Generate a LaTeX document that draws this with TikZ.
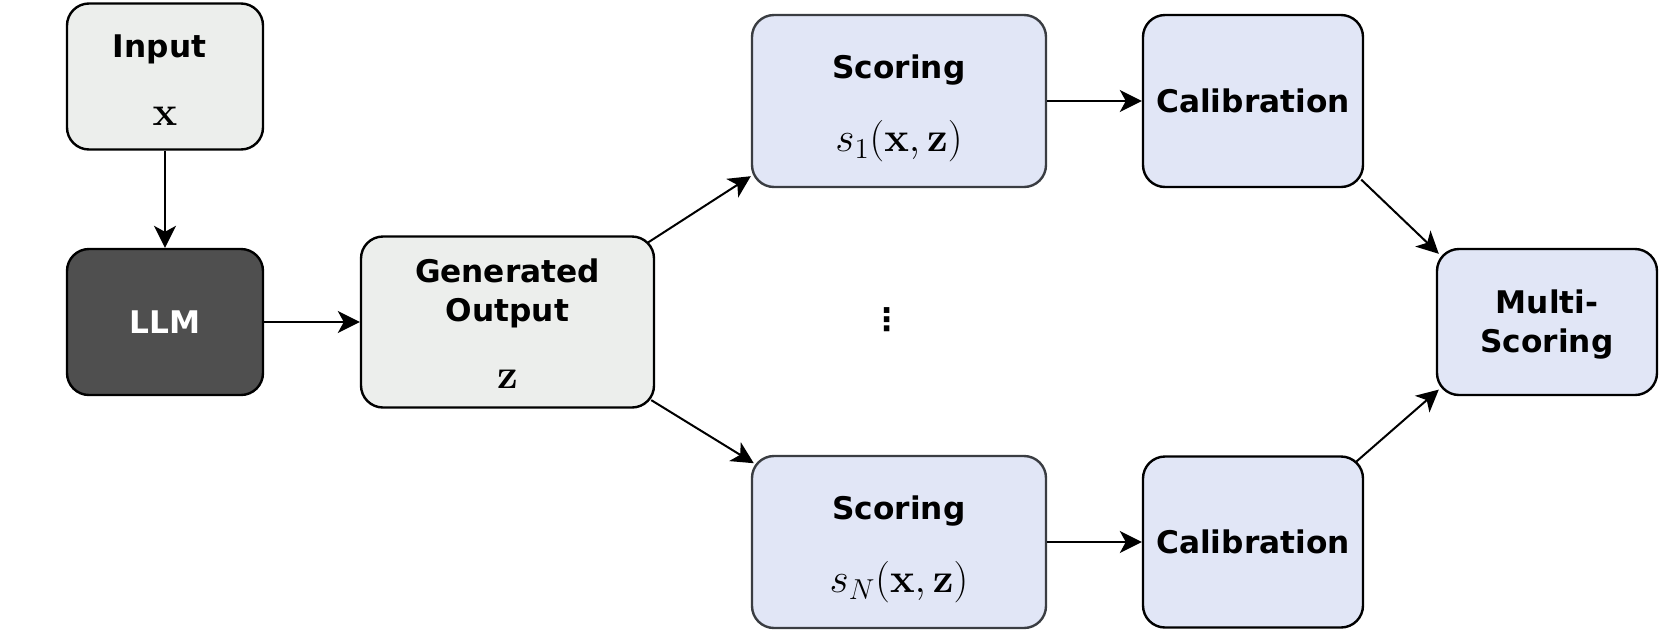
\documentclass[tikz,border=0pt]{standalone}
\usepackage[no-math]{fontspec}
\setmainfont{DejaVu Sans}
\usepackage{amsmath,amssymb}
\usepackage{tikz}
\usetikzlibrary{positioning,arrows.meta,calc}
\usepackage{xcolor}
\definecolor{inputgray}{HTML}{ECEEEC}
\definecolor{llmgray}{HTML}{4F4F4F}
\definecolor{scoreblue}{HTML}{E1E6F6}
\definecolor{scoreline}{HTML}{3A3D42}
\newcommand{\mbig}[1]{{\fontsize{20.5}{19.5}\selectfont$#1$}}
\newcommand{\topstrut}[1]{\rule{0pt}{#1}}
\tikzset{
  >={Stealth[length=11pt,width=11pt,inset=3pt]},
  base/.style={rectangle, rounded corners=11pt, line width=1.2pt, align=center,
    inner sep=0pt, font=\fontsize{15.6}{19.5}\selectfont\bfseries},
}
\begin{document}
\begin{tikzpicture}[
x=1pt, y=1pt,
->,
line width=1pt,
inbox/.style={base, draw=black, fill=inputgray},
llmbox/.style={base, draw=black, fill=llmgray, text=white},
scorebox/.style={base, draw=scoreline, fill=scoreblue, minimum width=147pt, minimum height=86pt},
calbox/.style={base, draw=black, fill=scoreblue, minimum width=110pt}
]
\useasboundingbox (0,0) rectangle (830,-319);

\node[inbox, minimum width=98pt, minimum height=73pt] (input) at (82.5,-38.25) {\topstrut{15.2pt}Input\kern5.4pt\\[14.3pt]\mbig{\mathbf{x}}};
\node[llmbox, minimum width=98pt, minimum height=73pt, below of=input, node distance=122.75pt] (llm) {LLM};
\node[inbox, minimum width=146.5pt, minimum height=85.5pt, right of=llm, node distance=171.25pt] (gen) {\topstrut{13.65pt}Generated\\Output\\[13.75pt]\mbig{\mathbf{z}}};

\node[scorebox] (s1) at (449.5,-50.5) {\topstrut{19.35pt}Scoring\\[17.1pt]\mbig{s_1(\mathbf{x},\mathbf{z})}};
\node[calbox, minimum height=86pt, right of=s1, node distance=177pt] (c1) {Calibration};
\node[scorebox, below of=s1, node distance=220.5pt] (sN) {\topstrut{19.35pt}Scoring\\[17.1pt]\mbig{s_N(\mathbf{x},\mathbf{z})}};
\node[calbox, minimum height=85.5pt, right of=sN, node distance=177pt] (cN) {Calibration};
\node[calbox, minimum height=73pt] (multi) at (773.5,-161) {\topstrut{14.3pt}Multi-\\Scoring};
\node[font=\fontsize{15.6}{19.5}\selectfont\bfseries] (dots) at (443.5,-160) {⋮};

\draw (input) -- (llm);
\draw (llm) -- (gen);
\draw ($(gen.north east)+(-3.6,-3.6)$) -- ($(s1.south west)+(0,6)$);
\draw ($(gen.south east)+(-2,4.3)$) -- ($(sN.north west)+(1.5,-4.2)$);
\draw (s1) -- (c1);
\draw (sN) -- (cN);
\draw ($(c1.south east)+(-1.5,4.3)$) -- ($(multi.north west)+(1.5,-3)$);
\draw ($(cN.north east)+(-4,-3.2)$) -- ($(multi.south west)+(1.5,3.3)$);
\end{tikzpicture}
\end{document}
